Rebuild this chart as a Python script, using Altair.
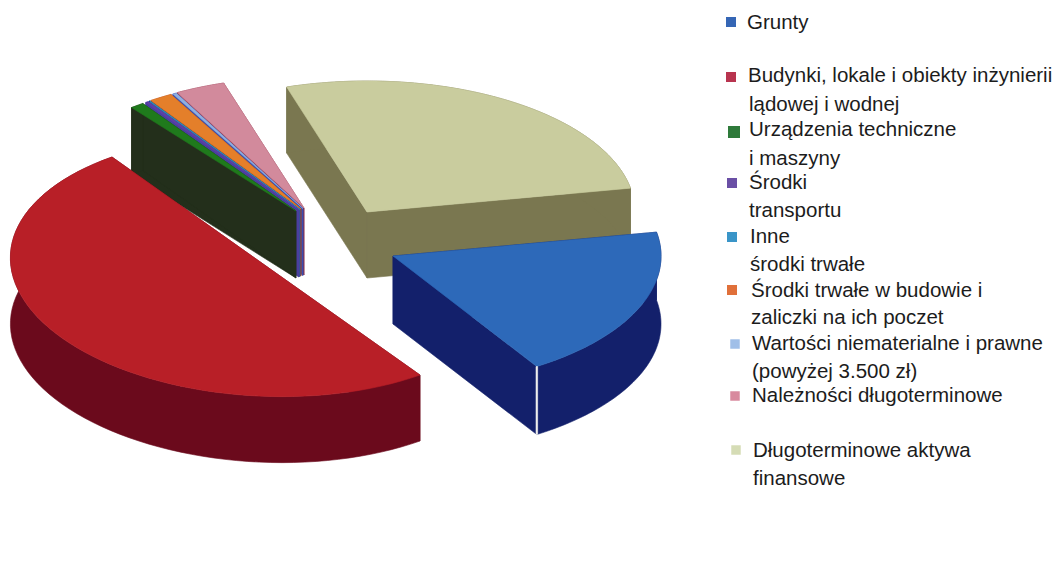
import math
import altair as alt
import pandas as pd

# ---- chart values (share of the whole, %) in legend / clockwise order ----
categories = ["Grunty", "Budynki", "Urzadzenia", "Transport", "Inne", "WBudowie",
              "Wartosci", "Naleznosci", "Aktywa"]
shares = [18.9, 48.5, 0.83, 0.17, 0.06, 1.39, 0.22, 3.0, 26.93]
top_colors = ["#2d69b9", "#b81f27", "#1f7a1c", "#5f3fa8", "#2f8fb8", "#e47f2a",
              "#8fb0e0", "#d28a9c", "#c9cc9e"]
wall_colors = ["#13206b", "#6b0a1c", "#232f1b", "#4a3fa0", "#2a5f90", "#a83c22",
               "#3a4fb0", "#8a2a40", "#7a7750"]

legend_colors = ["#3566b5", "#b8344f", "#2e7a3a", "#6a4fa5", "#3a95c8", "#e0703a",
                 "#a0bfe8", "#d88a9e", "#d5dcb5"]
legend_lines = [
    "Grunty",
    "Budynki, lokale i obiekty inżynierii", "lądowej i wodnej",
    "Urządzenia techniczne", "i maszyny",
    "Środki", "transportu",
    "Inne", "środki trwałe",
    "Środki trwałe w budowie i", "zaliczki na ich poczet",
    "Wartości niematerialne i prawne", "(powyżej 3.500 zł)",
    "Należności długoterminowe",
    "Długoterminowe aktywa", "finansowe",
]
legend_line_owner = [0, 1, 1, 2, 2, 3, 3, 4, 4, 5, 5, 6, 6, 7, 8, 8]

# ---- layout of the exploded perspective pie (page pixels) ----
W, H = 1045, 545
A, B = 268.0, 131.0
START = 10.5
DEPTH = [68, 66, 67, 67, 67, 67, 67, 67, 66]
CENTER = [(393, 256), (266, 266), (296, 211), (299, 210), (300, 209.5),
          (301, 209), (303, 208.5), (304, 208), (367, 212)]
RED_U, RED_V = (154, 109), (-204, 72)
DRAW_ORDER = [8, 7, 6, 5, 4, 3, 2, 1, 0]
legend_y = [22.5, 75.5, 104.5, 129.5, 158.5, 182.5, 210.5, 236.5, 264.5, 290.5, 317.5, 343.5,
            371.5, 395.5, 450.5, 478.5]
legend_x = [747, 748, 749, 749, 749, 749, 749, 750, 750, 751, 751, 752, 752, 752, 753, 753]
marker_x = [731, 731, 734, 732, 732, 732, 735, 735, 736]
marker_y = [22, 77, 132, 183, 237, 290, 344, 396, 450]
marker_size = [100, 100, 144, 100, 100, 100, 90, 90, 90]

# angles run clockwise from START, one after another
angles = []
a0 = START
for s in shares:
    a1 = a0 - s * 3.6
    angles.append((a0, a1))
    a0 = a1


def arc_points(i, n=70):
    a_from, a_to = angles[i]
    pts = []
    for k in range(n + 1):
        f = k / n
        if i == 1:
            # front half-disc, seen with its own perspective distortion
            t = math.radians(180 * (1 - f))
            x = CENTER[i][0] + RED_U[0] * math.cos(t) + RED_V[0] * math.sin(t)
            y = CENTER[i][1] + RED_U[1] * math.cos(t) + RED_V[1] * math.sin(t)
        else:
            t = math.radians(a_from + (a_to - a_from) * f)
            x = CENTER[i][0] + A * math.cos(t)
            y = CENTER[i][1] - B * math.sin(t)
        pts.append([x, y])
    return pts


def feature(points, color):
    ring = [list(p) for p in points] + [list(points[0])]
    return {"type": "Feature", "properties": {"fill": color},
            "geometry": {"type": "Polygon", "coordinates": [ring]}}


features = []
for i in DRAW_ORDER:
    arc = arc_points(i)
    c = list(CENTER[i])
    d = DEPTH[i]
    drop = lambda p: [p[0], p[1] + d]
    # the two cut walls, then the rim, then the top face
    for end in (arc[0], arc[-1]):
        features.append(feature([c, end, drop(end), drop(c)], wall_colors[i]))
    features.append(feature(arc + [drop(p) for p in reversed(arc)], wall_colors[i]))
    features.append(feature([c] + arc, top_colors[i]))
    if i == 0:
        tip = arc[-1]
        features.append(feature([[tip[0] - 0.8, tip[1]], [tip[0] + 0.8, tip[1]],
                                 [tip[0] + 0.8, tip[1] + d], [tip[0] - 0.8, tip[1] + d]],
                                "#f4f4f0"))

pie = alt.Chart(alt.Data(values=features)).mark_geoshape(strokeWidth=0.6).encode(
    color=alt.Color("properties.fill:N", scale=None),
    stroke=alt.Stroke("properties.fill:N", scale=None),
).project(type="identity", scale=1, translate=[-8, -8])

x_scale = alt.Scale(domain=[8, 8 + W], range=[0, W])
y_scale = alt.Scale(domain=[8, 8 + H], range=[0, H])

text_df = pd.DataFrame({"label": legend_lines, "x": legend_x, "y": legend_y,
                        "owner": legend_line_owner})
labels = alt.Chart(text_df).mark_text(
    align="left", baseline="middle", font="Liberation Sans", fontSize=20.5, color="#1c1c1c"
).encode(
    x=alt.X("x:Q", scale=x_scale, axis=None),
    y=alt.Y("y:Q", scale=y_scale, axis=None),
    text="label:N",
)

marker_df = pd.DataFrame({"cat": categories, "x": marker_x, "y": marker_y,
                          "c": legend_colors, "s": marker_size})
markers = alt.Chart(marker_df).mark_point(shape="square", filled=True, opacity=1).encode(
    x=alt.X("x:Q", scale=x_scale, axis=None),
    y=alt.Y("y:Q", scale=y_scale, axis=None),
    color=alt.Color("c:N", scale=None),
    size=alt.Size("s:Q", scale=None),
)

chart = alt.layer(pie, markers, labels).resolve_scale(color="independent").properties(
    width=W, height=H, padding=0, autosize=alt.AutoSizeParams(type="none"),
    background="white",
).configure_view(stroke=None)

chart.save("out.html", embed_options={"renderer": "svg", "actions": False})
